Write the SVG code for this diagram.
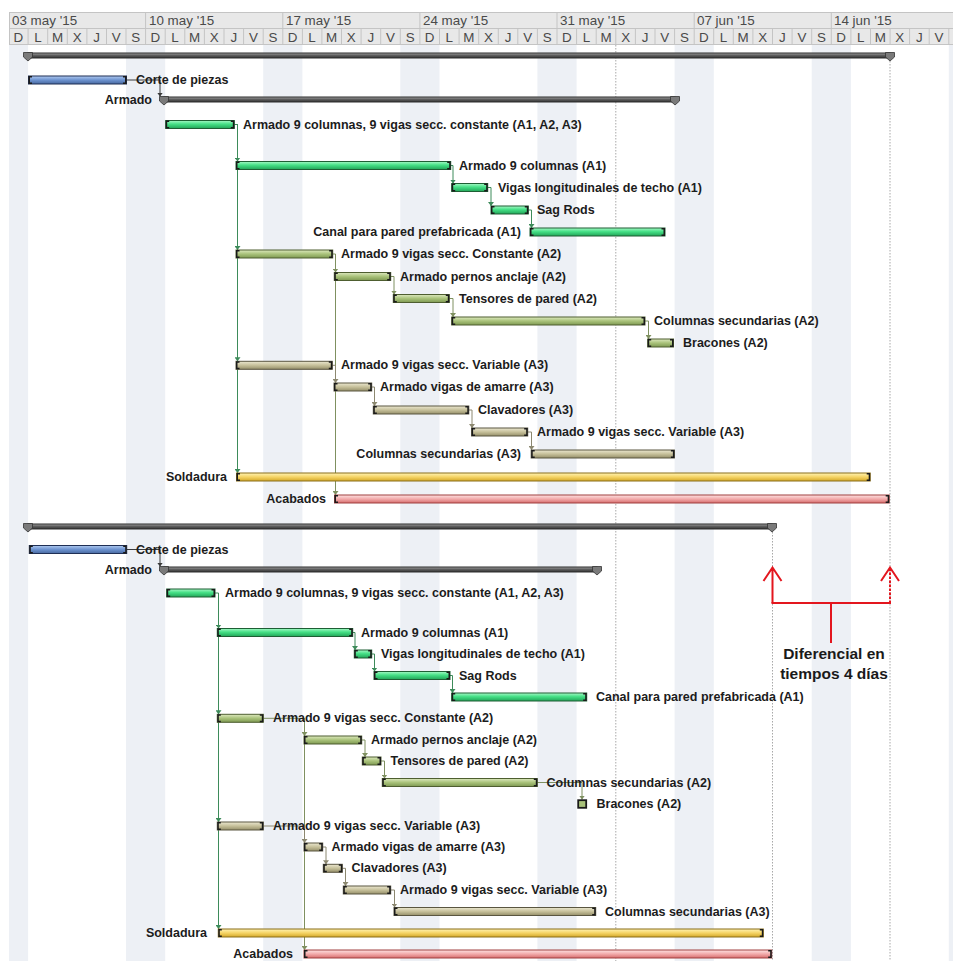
<svg xmlns="http://www.w3.org/2000/svg" xmlns:xlink="http://www.w3.org/1999/xlink" width="953" height="961" viewBox="0 0 953 961">
  <style>
    .hdr { font-family: "Liberation Sans", Arial, sans-serif; font-size: 13.4px; fill: #4a4a4a; }
    .lbl { font-family: "Liberation Sans", Arial, sans-serif; font-size: 12.5px; font-weight: bold; fill: #1c1c1c; }
    .end { text-anchor: end; }
    .note { font-family: "Liberation Sans", Arial, sans-serif; font-size: 15.5px; font-weight: bold; fill: #1a1a1a; text-anchor: middle; }
    .wk { fill: #edf0f5; }
    .grid { stroke: #c4c4c4; stroke-width: 1; fill: none; }
    .dot { stroke: #a8a8a8; stroke-width: 1; stroke-dasharray: 1.5 1.5; fill: none; }
    .bar { stroke-width: 1; }
    .b-green { fill: url(#gGreen); stroke: #1e5e34; }
    .b-olive { fill: url(#gOlive); stroke: #4e5e30; }
    .b-khaki { fill: url(#gKhaki); stroke: #5a5640; }
    .b-yellow { fill: url(#gYellow); stroke: #8a6e1a; }
    .b-pink { fill: url(#gPink); stroke: #a04040; }
    .b-blue { fill: url(#gBlue); stroke: #1f2f55; }
    .sum { fill: url(#gSum); stroke: #2e2e2e; stroke-width: 1; }
    .cap { fill: #1a1a1a; }
    .mark { fill: #7a7a7a; stroke: #333; stroke-width: 0.8; }
    .c-dark { stroke: #3a3a3a; }
    .c-green { stroke: #3d8b5a; }
    .c-olive { stroke: #7f9060; }
    .c-khaki { stroke: #8c8870; }
    #links path { fill: none; stroke-width: 1; }
    .red { stroke: #e3161e; stroke-width: 2; fill: none; }
  </style>
  <defs>
    <linearGradient id="gGreen" x1="0" y1="0" x2="0" y2="1">
      <stop offset="0" stop-color="#a6f8c6"/><stop offset="0.45" stop-color="#45e086"/><stop offset="1" stop-color="#22a458"/>
    </linearGradient>
    <linearGradient id="gOlive" x1="0" y1="0" x2="0" y2="1">
      <stop offset="0" stop-color="#dde9bf"/><stop offset="0.5" stop-color="#a9c27a"/><stop offset="1" stop-color="#7e9952"/>
    </linearGradient>
    <linearGradient id="gKhaki" x1="0" y1="0" x2="0" y2="1">
      <stop offset="0" stop-color="#ebe7d0"/><stop offset="0.5" stop-color="#c6c09a"/><stop offset="1" stop-color="#958f6a"/>
    </linearGradient>
    <linearGradient id="gYellow" x1="0" y1="0" x2="0" y2="1">
      <stop offset="0" stop-color="#fff3b5"/><stop offset="0.5" stop-color="#f5d465"/><stop offset="1" stop-color="#d4a82a"/>
    </linearGradient>
    <linearGradient id="gPink" x1="0" y1="0" x2="0" y2="1">
      <stop offset="0" stop-color="#fde2e2"/><stop offset="0.5" stop-color="#f2aaaa"/><stop offset="1" stop-color="#d66e6e"/>
    </linearGradient>
    <linearGradient id="gBlue" x1="0" y1="0" x2="0" y2="1">
      <stop offset="0" stop-color="#b0caf0"/><stop offset="0.5" stop-color="#6d93d0"/><stop offset="1" stop-color="#48699f"/>
    </linearGradient>
    <linearGradient id="gSum" x1="0" y1="0" x2="0" y2="1">
      <stop offset="0" stop-color="#a0a0a0"/><stop offset="0.5" stop-color="#5c5c5c"/><stop offset="1" stop-color="#333"/>
    </linearGradient>
    <!-- start / finish brackets on task bars -->
    <path id="capL" class="cap" d="M0 -4h3.5v1.5h-2v5h2v1.5h-3.5z"/>
    <path id="capR" class="cap" d="M0 -4h-3.5v1.5h2v5h-2v1.5h3.5z"/>
    <!-- summary end marker -->
    <path id="sumMark" class="mark" d="M-4.5 -0.5h9v4.5l-4.5 4l-4.5 -4z"/>
    <marker id="aDark" markerUnits="userSpaceOnUse" viewBox="0 0 6 4" refX="3" refY="4" markerWidth="6" markerHeight="4" orient="0"><path d="M0 0H6L3 4z" fill="#3a3a3a"/></marker>
    <marker id="aGreen" markerUnits="userSpaceOnUse" viewBox="0 0 6 4" refX="3" refY="4" markerWidth="6" markerHeight="4" orient="0"><path d="M0 0H6L3 4z" fill="#3d8b5a"/></marker>
    <marker id="aOlive" markerUnits="userSpaceOnUse" viewBox="0 0 6 4" refX="3" refY="4" markerWidth="6" markerHeight="4" orient="0"><path d="M0 0H6L3 4z" fill="#7f9060"/></marker>
    <marker id="aKhaki" markerUnits="userSpaceOnUse" viewBox="0 0 6 4" refX="3" refY="4" markerWidth="6" markerHeight="4" orient="0"><path d="M0 0H6L3 4z" fill="#8c8870"/></marker>
  </defs>

  <rect width="953" height="961" fill="#ffffff"/>

  <!-- non-working days (S, D) -->
  <g id="weekends">
    <rect class="wk" x="9" y="45" width="19.1" height="916"/>
    <rect class="wk" x="126.0" y="45" width="39.2" height="916"/>
    <rect class="wk" x="263.2" y="45" width="39.2" height="916"/>
    <rect class="wk" x="400.3" y="45" width="39.2" height="916"/>
    <rect class="wk" x="537.4" y="45" width="39.2" height="916"/>
    <rect class="wk" x="674.6" y="45" width="39.2" height="916"/>
    <rect class="wk" x="811.7" y="45" width="39.2" height="916"/>
    <rect class="wk" x="948.8" y="45" width="5" height="916"/>
  </g>

  <!-- timescale -->
  <g id="timescale">
    <rect x="9" y="12" width="944" height="33" fill="#e8e8e8"/>
    <path class="grid" d="M9 12.5H953M9 28.5H953M9 44.5H953M9.5 12V45M145.6 12V28M282.8 12V28M419.9 12V28M557 12V28M694.2 12V28M831.3 12V28"/>
    <path class="grid" d="M28.1 28V45M47.7 28V45M67.3 28V45M86.9 28V45M106.5 28V45M126 28V45M145.6 28V45M165.2 28V45M184.8 28V45M204.4 28V45M224 28V45M243.6 28V45M263.2 28V45M282.8 28V45M302.4 28V45M321.9 28V45M341.5 28V45M361.1 28V45M380.7 28V45M400.3 28V45M419.9 28V45M439.5 28V45M459.1 28V45M478.7 28V45M498.3 28V45M517.8 28V45M537.4 28V45M557 28V45M576.6 28V45M596.2 28V45M615.8 28V45M635.4 28V45M655 28V45M674.6 28V45M694.2 28V45M713.7 28V45M733.3 28V45M752.9 28V45M772.5 28V45M792.1 28V45M811.7 28V45M831.3 28V45M850.9 28V45M870.5 28V45M890.1 28V45M909.6 28V45M929.2 28V45M948.8 28V45"/>
    <text class="hdr" x="12" y="24.5">03 may '15</text>
    <text class="hdr" x="149" y="24.5">10 may '15</text>
    <text class="hdr" x="286" y="24.5">17 may '15</text>
    <text class="hdr" x="423" y="24.5">24 may '15</text>
    <text class="hdr" x="560" y="24.5">31 may '15</text>
    <text class="hdr" x="697" y="24.5">07 jun '15</text>
    <text class="hdr" x="834" y="24.5">14 jun '15</text>
    <text class="hdr" text-anchor="middle" y="41.5" x="18.3 37.9 57.5 77.1 96.7 116.2 135.8 155.4 175 194.6 214.2 233.8 253.4 273 292.6 312.1 331.7 351.3 370.9 390.5 410.1 429.7 449.3 468.9 488.5 508 527.6 547.2 566.8 586.4 606 625.6 645.2 664.8 684.4 703.9 723.5 743.1 762.7 782.3 801.9 821.5 841.1 860.7 880.3 899.8 919.4 939">DLMXJVSDLMXJVSDLMXJVSDLMXJVSDLMXJVSDLMXJVSDLMXJV</text>
  </g>

  <!-- status date and finish guides -->
  <g id="guides">
    <path class="dot" d="M615.8 45V961"/>
    <path class="dot" d="M890 58V961"/>
    <path class="dot" d="M772.5 529V961"/>
  </g>

  <!-- dependency links -->
  <g id="links">
    <path class="c-dark" marker-end="url(#aDark)" d="M126.5 80H160V96.5"/>
    <path class="c-green" marker-end="url(#aGreen)" d="M234.3 124.5H237.5V161.5"/>
    <path class="c-green" marker-end="url(#aGreen)" d="M237.5 124.5V250"/>
    <path class="c-green" marker-end="url(#aGreen)" d="M237.5 124.5V361.3"/>
    <path class="c-green" marker-end="url(#aGreen)" d="M237.5 124.5V473"/>
    <path class="c-green" marker-end="url(#aGreen)" d="M450.7 165.5H453V183.5"/>
    <path class="c-green" marker-end="url(#aGreen)" d="M487.7 187.5H491V206"/>
    <path class="c-green" marker-end="url(#aGreen)" d="M528.3 210H531.5V228"/>
    <path class="c-olive" marker-end="url(#aOlive)" d="M332.7 254H335.5V272.5"/>
    <path class="c-olive" marker-end="url(#aOlive)" d="M335.5 254V495"/>
    <path class="c-olive" marker-end="url(#aOlive)" d="M390.7 276.5H394V294.5"/>
    <path class="c-olive" marker-end="url(#aOlive)" d="M449.3 298.5H453V317"/>
    <path class="c-olive" marker-end="url(#aOlive)" d="M645 321H648.5V339"/>
    <path class="c-khaki" marker-end="url(#aKhaki)" d="M332.3 365.3H335.5V383"/>
    <path class="c-khaki" marker-end="url(#aKhaki)" d="M371.7 387H374.5V406"/>
    <path class="c-khaki" marker-end="url(#aKhaki)" d="M468.8 410H472V428"/>
    <path class="c-khaki" marker-end="url(#aKhaki)" d="M527.7 432H531.5V450"/>

    <path class="c-dark" marker-end="url(#aDark)" d="M126.7 549.5H160V566.5"/>
    <path class="c-green" marker-end="url(#aGreen)" d="M215 593H218.5V628.5"/>
    <path class="c-green" marker-end="url(#aGreen)" d="M218.5 593V714.3"/>
    <path class="c-green" marker-end="url(#aGreen)" d="M218.5 593V822"/>
    <path class="c-green" marker-end="url(#aGreen)" d="M218.5 593V929"/>
    <path class="c-green" marker-end="url(#aGreen)" d="M352.7 632.5H355V650"/>
    <path class="c-green" marker-end="url(#aGreen)" d="M371.7 654H374.5V671.5"/>
    <path class="c-green" marker-end="url(#aGreen)" d="M450 675.5H452.5V693"/>
    <path class="c-olive" marker-end="url(#aOlive)" d="M263.3 718.3H304.5V736"/>
    <path class="c-olive" marker-end="url(#aOlive)" d="M304.5 718.3V950"/>
    <path class="c-olive" marker-end="url(#aOlive)" d="M361.7 740H365V757"/>
    <path class="c-olive" marker-end="url(#aOlive)" d="M381 761H384.5V778.5"/>
    <path class="c-olive" marker-end="url(#aOlive)" d="M537.3 782.5H582V799.5"/>
    <path class="c-khaki" marker-end="url(#aKhaki)" d="M263.3 826H304.5V843"/>
    <path class="c-khaki" marker-end="url(#aKhaki)" d="M322.7 847H326V864.3"/>
    <path class="c-khaki" marker-end="url(#aKhaki)" d="M342.3 868.3H345.5V886"/>
    <path class="c-khaki" marker-end="url(#aKhaki)" d="M390.7 890H394.5V907.5"/>
  </g>

  <!-- ===== Schedule A ===== -->
  <g id="a-proyecto">
    <rect class="sum" x="28" y="53" width="862" height="5"/>
    <use href="#sumMark" x="28" y="53"/>
    <use href="#sumMark" x="890" y="53"/>
  </g>
  <g id="a-corte">
    <rect class="bar b-blue" x="28.5" y="76" width="98" height="8"/>
    <use href="#capL" x="28.5" y="80"/><use href="#capR" x="126.5" y="80"/>
    <text class="lbl" x="136" y="84">Corte de piezas</text>
  </g>
  <g id="a-armado">
    <rect class="sum" x="164" y="97" width="511" height="5"/>
    <use href="#sumMark" x="164" y="97"/>
    <use href="#sumMark" x="675" y="97"/>
    <text class="lbl end" x="152" y="104">Armado</text>
  </g>
  <g id="a-armado-a123">
    <rect class="bar b-green" x="165.7" y="120.5" width="68.6" height="8"/>
    <use href="#capL" x="165.7" y="124.5"/><use href="#capR" x="234.3" y="124.5"/>
    <text class="lbl" x="243" y="128.5">Armado 9 columnas, 9 vigas secc. constante (A1, A2, A3)</text>
  </g>
  <g id="a-columnas-a1">
    <rect class="bar b-green" x="236" y="161.5" width="214.7" height="8"/>
    <use href="#capL" x="236" y="165.5"/><use href="#capR" x="450.7" y="165.5"/>
    <text class="lbl" x="459" y="169.5">Armado 9 columnas (A1)</text>
  </g>
  <g id="a-vigas-long">
    <rect class="bar b-green" x="451.7" y="183.5" width="36" height="8"/>
    <use href="#capL" x="451.7" y="187.5"/><use href="#capR" x="487.7" y="187.5"/>
    <text class="lbl" x="498" y="191.5">Vigas longitudinales de techo (A1)</text>
  </g>
  <g id="a-sag-rods">
    <rect class="bar b-green" x="491" y="206" width="37.3" height="8"/>
    <use href="#capL" x="491" y="210"/><use href="#capR" x="528.3" y="210"/>
    <text class="lbl" x="537" y="214">Sag Rods</text>
  </g>
  <g id="a-canal">
    <rect class="bar b-green" x="530" y="228" width="135" height="8"/>
    <use href="#capL" x="530" y="232"/><use href="#capR" x="665" y="232"/>
    <text class="lbl end" x="521" y="236">Canal para pared prefabricada (A1)</text>
  </g>
  <g id="a-vigas-const-a2">
    <rect class="bar b-olive" x="236" y="250" width="96.7" height="8"/>
    <use href="#capL" x="236" y="254"/><use href="#capR" x="332.7" y="254"/>
    <text class="lbl" x="341" y="258">Armado 9 vigas secc. Constante (A2)</text>
  </g>
  <g id="a-pernos">
    <rect class="bar b-olive" x="334.3" y="272.5" width="56.4" height="8"/>
    <use href="#capL" x="334.3" y="276.5"/><use href="#capR" x="390.7" y="276.5"/>
    <text class="lbl" x="400" y="280.5">Armado pernos anclaje (A2)</text>
  </g>
  <g id="a-tensores">
    <rect class="bar b-olive" x="393.3" y="294.5" width="56" height="8"/>
    <use href="#capL" x="393.3" y="298.5"/><use href="#capR" x="449.3" y="298.5"/>
    <text class="lbl" x="459" y="302.5">Tensores de pared (A2)</text>
  </g>
  <g id="a-col-sec-a2">
    <rect class="bar b-olive" x="451.7" y="317" width="193.3" height="8"/>
    <use href="#capL" x="451.7" y="321"/><use href="#capR" x="645" y="321"/>
    <text class="lbl" x="654" y="325">Columnas secundarias (A2)</text>
  </g>
  <g id="a-bracones">
    <rect class="bar b-olive" x="647.7" y="339" width="25.8" height="8"/>
    <use href="#capL" x="647.7" y="343"/><use href="#capR" x="673.5" y="343"/>
    <text class="lbl" x="683" y="347">Bracones (A2)</text>
  </g>
  <g id="a-vigas-var-a3">
    <rect class="bar b-khaki" x="236" y="361.3" width="96.3" height="8"/>
    <use href="#capL" x="236" y="365.3"/><use href="#capR" x="332.3" y="365.3"/>
    <text class="lbl" x="341" y="369.3">Armado 9 vigas secc. Variable (A3)</text>
  </g>
  <g id="a-amarre">
    <rect class="bar b-khaki" x="334" y="383" width="37.7" height="8"/>
    <use href="#capL" x="334" y="387"/><use href="#capR" x="371.7" y="387"/>
    <text class="lbl" x="380" y="391">Armado vigas de amarre (A3)</text>
  </g>
  <g id="a-clavadores">
    <rect class="bar b-khaki" x="373.3" y="406" width="95.5" height="8"/>
    <use href="#capL" x="373.3" y="410"/><use href="#capR" x="468.8" y="410"/>
    <text class="lbl" x="478" y="414">Clavadores (A3)</text>
  </g>
  <g id="a-vigas-var-a3-2">
    <rect class="bar b-khaki" x="471.6" y="428" width="56.1" height="8"/>
    <use href="#capL" x="471.6" y="432"/><use href="#capR" x="527.7" y="432"/>
    <text class="lbl" x="537" y="436">Armado 9 vigas secc. Variable (A3)</text>
  </g>
  <g id="a-col-sec-a3">
    <rect class="bar b-khaki" x="531.2" y="450" width="143.2" height="8"/>
    <use href="#capL" x="531.2" y="454"/><use href="#capR" x="674.4" y="454"/>
    <text class="lbl end" x="521" y="458">Columnas secundarias (A3)</text>
  </g>
  <g id="a-soldadura">
    <rect class="bar b-yellow" x="236.5" y="473" width="633.7" height="8"/>
    <use href="#capL" x="236.5" y="477"/><use href="#capR" x="870.2" y="477"/>
    <text class="lbl end" x="227" y="481">Soldadura</text>
  </g>
  <g id="a-acabados">
    <rect class="bar b-pink" x="334.5" y="495" width="554.7" height="8"/>
    <use href="#capL" x="334.5" y="499"/><use href="#capR" x="889.2" y="499"/>
    <text class="lbl end" x="326" y="503">Acabados</text>
  </g>

  <!-- ===== Schedule B ===== -->
  <g id="b-proyecto">
    <rect class="sum" x="28" y="524" width="744" height="5"/>
    <use href="#sumMark" x="28" y="524"/>
    <use href="#sumMark" x="772" y="524"/>
  </g>
  <g id="b-corte">
    <rect class="bar b-blue" x="29.3" y="545.5" width="97.4" height="8"/>
    <use href="#capL" x="29.3" y="549.5"/><use href="#capR" x="126.7" y="549.5"/>
    <text class="lbl" x="136" y="553.5">Corte de piezas</text>
  </g>
  <g id="b-armado">
    <rect class="sum" x="164" y="567" width="433" height="5"/>
    <use href="#sumMark" x="164" y="567"/>
    <use href="#sumMark" x="597" y="567"/>
    <text class="lbl end" x="152" y="574">Armado</text>
  </g>
  <g id="b-armado-a123">
    <rect class="bar b-green" x="166.7" y="589" width="48.3" height="8"/>
    <use href="#capL" x="166.7" y="593"/><use href="#capR" x="215" y="593"/>
    <text class="lbl" x="225" y="597">Armado 9 columnas, 9 vigas secc. constante (A1, A2, A3)</text>
  </g>
  <g id="b-columnas-a1">
    <rect class="bar b-green" x="217.3" y="628.5" width="135.4" height="8"/>
    <use href="#capL" x="217.3" y="632.5"/><use href="#capR" x="352.7" y="632.5"/>
    <text class="lbl" x="361" y="636.5">Armado 9 columnas (A1)</text>
  </g>
  <g id="b-vigas-long">
    <rect class="bar b-green" x="354.3" y="650" width="17.4" height="8"/>
    <use href="#capL" x="354.3" y="654"/><use href="#capR" x="371.7" y="654"/>
    <text class="lbl" x="381" y="658">Vigas longitudinales de techo (A1)</text>
  </g>
  <g id="b-sag-rods">
    <rect class="bar b-green" x="374" y="671.5" width="76" height="8"/>
    <use href="#capL" x="374" y="675.5"/><use href="#capR" x="450" y="675.5"/>
    <text class="lbl" x="459" y="679.5">Sag Rods</text>
  </g>
  <g id="b-canal">
    <rect class="bar b-green" x="451.7" y="693" width="135" height="8"/>
    <use href="#capL" x="451.7" y="697"/><use href="#capR" x="586.7" y="697"/>
    <text class="lbl" x="596" y="701">Canal para pared prefabricada (A1)</text>
  </g>
  <g id="b-vigas-const-a2">
    <rect class="bar b-olive" x="217.3" y="714.3" width="46" height="8"/>
    <use href="#capL" x="217.3" y="718.3"/><use href="#capR" x="263.3" y="718.3"/>
    <text class="lbl" x="273" y="722.3">Armado 9 vigas secc. Constante (A2)</text>
  </g>
  <g id="b-pernos">
    <rect class="bar b-olive" x="304" y="736" width="57.7" height="8"/>
    <use href="#capL" x="304" y="740"/><use href="#capR" x="361.7" y="740"/>
    <text class="lbl" x="371" y="744">Armado pernos anclaje (A2)</text>
  </g>
  <g id="b-tensores">
    <rect class="bar b-olive" x="362.3" y="757" width="18.7" height="8"/>
    <use href="#capL" x="362.3" y="761"/><use href="#capR" x="381" y="761"/>
    <text class="lbl" x="390.5" y="765">Tensores de pared (A2)</text>
  </g>
  <g id="b-col-sec-a2">
    <rect class="bar b-olive" x="382.3" y="778.5" width="155" height="8"/>
    <use href="#capL" x="382.3" y="782.5"/><use href="#capR" x="537.3" y="782.5"/>
    <text class="lbl" x="546.5" y="786.5">Columnas secundarias (A2)</text>
  </g>
  <g id="b-bracones">
    <rect x="578.2" y="800.2" width="8" height="7.6" fill="#a9c27a" stroke="#1a1a1a" stroke-width="1.8"/>
    <text class="lbl" x="596.5" y="808">Bracones (A2)</text>
  </g>
  <g id="b-vigas-var-a3">
    <rect class="bar b-khaki" x="217.3" y="822" width="46" height="8"/>
    <use href="#capL" x="217.3" y="826"/><use href="#capR" x="263.3" y="826"/>
    <text class="lbl" x="273" y="830">Armado 9 vigas secc. Variable (A3)</text>
  </g>
  <g id="b-amarre">
    <rect class="bar b-khaki" x="304" y="843" width="18.7" height="8"/>
    <use href="#capL" x="304" y="847"/><use href="#capR" x="322.7" y="847"/>
    <text class="lbl" x="331.5" y="851">Armado vigas de amarre (A3)</text>
  </g>
  <g id="b-clavadores">
    <rect class="bar b-khaki" x="323.3" y="864.3" width="19" height="8"/>
    <use href="#capL" x="323.3" y="868.3"/><use href="#capR" x="342.3" y="868.3"/>
    <text class="lbl" x="351.5" y="872.3">Clavadores (A3)</text>
  </g>
  <g id="b-vigas-var-a3-2">
    <rect class="bar b-khaki" x="343.3" y="886" width="47.4" height="8"/>
    <use href="#capL" x="343.3" y="890"/><use href="#capR" x="390.7" y="890"/>
    <text class="lbl" x="400" y="894">Armado 9 vigas secc. Variable (A3)</text>
  </g>
  <g id="b-col-sec-a3">
    <rect class="bar b-khaki" x="394" y="907.5" width="201.7" height="8"/>
    <use href="#capL" x="394" y="911.5"/><use href="#capR" x="595.7" y="911.5"/>
    <text class="lbl" x="605" y="915.5">Columnas secundarias (A3)</text>
  </g>
  <g id="b-soldadura">
    <rect class="bar b-yellow" x="218.3" y="929" width="545" height="8"/>
    <use href="#capL" x="218.3" y="933"/><use href="#capR" x="763.3" y="933"/>
    <text class="lbl end" x="207" y="937">Soldadura</text>
  </g>
  <g id="b-acabados">
    <rect class="bar b-pink" x="304" y="950" width="467.7" height="8"/>
    <use href="#capL" x="304" y="954"/><use href="#capR" x="771.7" y="954"/>
    <text class="lbl end" x="293" y="958">Acabados</text>
  </g>

  <!-- finish-date difference callout -->
  <g id="diferencial">
    <path class="red" d="M772.5 603V568M763.5 581L772.5 567.5L781.5 581"/>
    <path class="red" stroke-dasharray="2.5 1.5" d="M890 603V568"/>
    <path class="red" d="M881 581L890 567.5L899 581"/>
    <path class="red" d="M771.5 603H891M831 603V643"/>
    <text class="note" x="834" y="659">Diferencial en</text>
    <text class="note" x="834" y="679">tiempos 4 días</text>
  </g>
</svg>
